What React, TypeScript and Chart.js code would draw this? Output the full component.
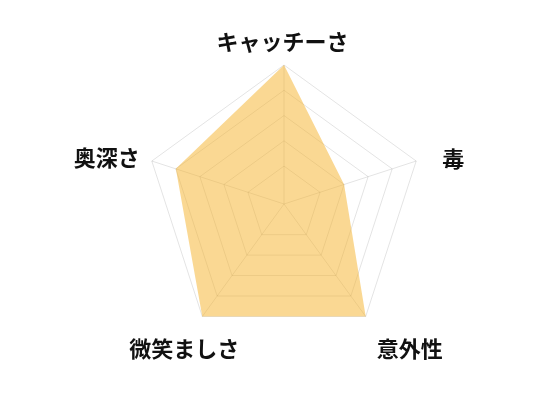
import Chart from "chart.js/auto";
import { useEffect, useRef } from "react";

const labels = ["キャッチーさ", "毒", "意外性", "微笑ましさ", "奥深さ"];
const scores = [5, 2, 5, 5, 4];
const ringValues = [1, 2, 3, 4, 5];

// labels are drawn by hand so they can sit where the original put them
const cornerLabels = {
  id: "cornerLabels",
  afterDraw(chart: any) {
    const scale = chart.scales.r;
    const ctx = chart.ctx;
    const nudge = [
      [-1.5, -23],
      [37, -2.5],
      [44, 32],
      [-18, 32],
      [-45, -3],
    ];
    ctx.save();
    ctx.font = "bold 22px 'Noto Sans CJK JP', sans-serif";
    ctx.fillStyle = "#111";
    ctx.textAlign = "center";
    ctx.textBaseline = "middle";
    labels.forEach((text, i) => {
      const p = scale.getPointPosition(i, scale.drawingArea);
      ctx.fillText(text, p.x + nudge[i][0], p.y + nudge[i][1]);
    });
    ctx.restore();
  },
};

export default function App() {
  const canvasEl = useRef<HTMLCanvasElement>(null);

  useEffect(() => {
    const ctx = canvasEl.current!.getContext("2d") as any;

    const chart = new Chart(ctx, {
      type: "radar",
      data: {
        labels: labels,
        datasets: [
          {
            label: "score",
            data: scores,
            backgroundColor: "rgba(246, 178, 40, 0.5)",
            borderWidth: 0,
            pointRadius: 0,
            fill: "start",
          },
        ],
      },
      options: {
        animation: false,
        responsive: true,
        maintainAspectRatio: false,
        layout: { padding: { left: 137, right: 129, top: 57, bottom: 49 } },
        plugins: {
          legend: { display: false },
          tooltip: { enabled: false },
        },
        scales: {
          r: {
            min: -0.5,
            max: 5,
            ticks: { display: false, stepSize: 1 },
            afterBuildTicks: (scale: any) => {
              scale.ticks = ringValues.map((v) => ({ value: v }));
            },
            grid: { color: "rgba(0, 0, 0, 0.11)" },
            angleLines: { color: "rgba(0, 0, 0, 0.11)" },
            pointLabels: { display: false },
          },
        },
      },
      plugins: [cornerLabels],
    } as any);

    return () => {
      chart.destroy();
    };
  }, []);

  return (
    <div style={{ width: 544, height: 384, position: "relative" }}>
      <canvas ref={canvasEl} />
    </div>
  );
}
